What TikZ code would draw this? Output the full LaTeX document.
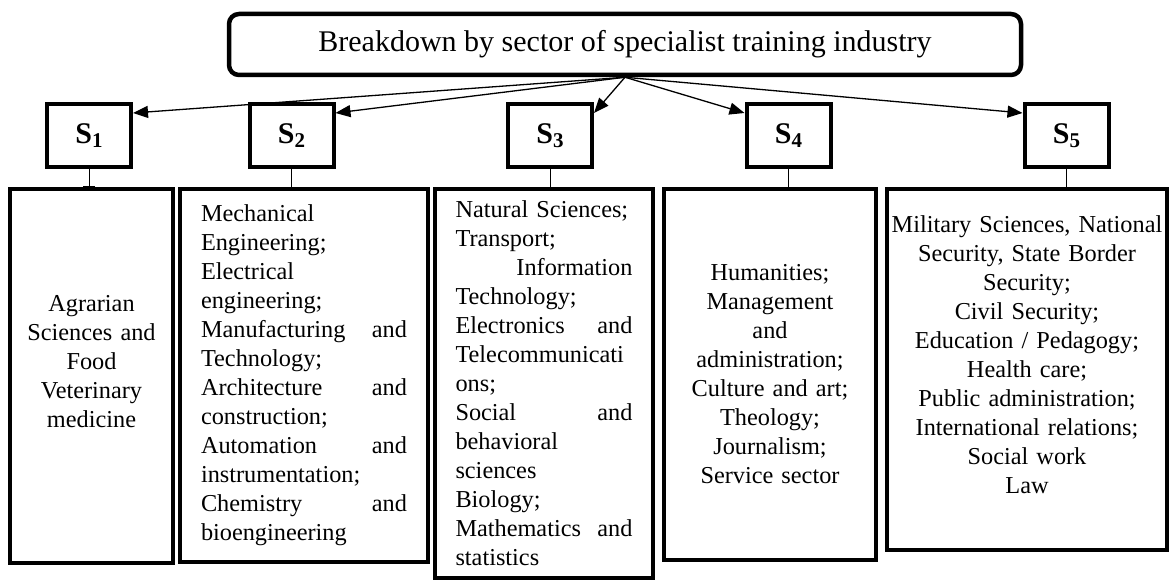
\documentclass[tikz,border=0pt]{standalone}
\usepackage{fontspec}
\setmainfont{Liberation Serif}
\usetikzlibrary{arrows.meta}
\newcommand\Slabel[1]{\textbf{S\raisebox{-3.5pt}{\fontsize{21}{21}\selectfont #1}}}
\begin{document}
\begin{tikzpicture}[x=1pt,y=-1pt,
    every node/.style={font=\fontsize{24.3}{29}\selectfont},
    titlebox/.style={draw,line width=4.5pt,rounded corners=10pt,minimum width=792pt,minimum height=61pt,font=\fontsize{30}{36}\selectfont},
    sbox/.style={draw,line width=4pt,minimum width=84pt,minimum height=63pt,font=\fontsize{30}{36}\selectfont},
    sectbox/.style={draw,line width=4pt,inner xsep=2pt},
    link/.style={line width=1.3pt,-{Triangle[length=15pt,width=12pt]}},
    stem/.style={line width=1pt}]
  \path[use as bounding box,fill=white] (0,0) rectangle (1171,583);
  \node[titlebox] (title) at (625,44.5) {Breakdown by sector of specialist training industry};
  \node[sbox] (s1) at (89,135.5) {\Slabel{1}};
  \node[sbox] (s2) at (291.5,135.5) {\Slabel{2}};
  \node[sbox] (s3) at (550,135.5) {\Slabel{3}};
  \node[sbox] (s4) at (788.5,135.5) {\Slabel{4}};
  \node[sbox] (s5) at (1066.5,135.5) {\Slabel{5}};
  \node[sectbox,minimum width=163pt,minimum height=374pt,text width=155pt,align=center] (b1) at (91.5,376)
    {Agrarian\\Sciences and\\Food\\Veterinary\\medicine\\\mbox{}};
  \node[sectbox,minimum width=248pt,minimum height=373pt,text width=206pt,align=left] (b2) at (304,375.5)
    {Mechanical\\Engineering;\\Electrical\\engineering;\\Manufacturing\hfill and\\Technology;\\Architecture\hfill and\\construction;\\Automation\hfill and\\instrumentation;\\Chemistry\hfill and\\bioengineering};
  \node[sectbox,minimum width=218pt,minimum height=389pt,text width=177pt,align=left] (b3) at (544,383.5)
    {Natural Sciences;\\Transport;\\\hfill Information\\Technology;\\Electronics\hfill and\\Telecommunicati\\ons;\\Social\hfill and\\behavioral\\sciences\\Biology;\\Mathematics\hfill and\\statistics};
  \node[sectbox,minimum width=212pt,minimum height=371pt,text width=200pt,align=center] (b4) at (770,374.5)
    {Humanities;\\Management\\and\\administration;\\Culture and art;\\Theology;\\Journalism;\\Service sector};
  \node[sectbox,minimum width=280pt,minimum height=361pt,text width=272pt,align=center] (b5) at (1027,369.5)
    {Military Sciences, National\\Security, State Border\\Security;\\Civil Security;\\Education / Pedagogy;\\Health care;\\Public administration;\\International relations;\\Social work\\Law\\\mbox{}};
  \draw[link] (title.south) -- ([yshift=-11pt]s1.north east);
  \draw[link] (title.south) -- ([yshift=-11pt]s2.north east);
  \draw[link] (title.south) -- ([yshift=-11pt]s3.north east);
  \draw[link] (title.south) -- ([yshift=-11pt]s4.north west);
  \draw[link] (title.south) -- ([yshift=-11pt]s5.north west);
  \draw[stem,-{Bar[width=12pt]}] (s1.south) -- (s1.south |- b1.north);
  \draw[stem] (s2.south) -- (s2.south |- b2.north);
  \draw[stem] (s3.south) -- (s3.south |- b3.north);
  \draw[stem] (s4.south) -- (s4.south |- b4.north);
  \draw[stem] (s5.south) -- (s5.south |- b5.north);
\end{tikzpicture}
\end{document}
